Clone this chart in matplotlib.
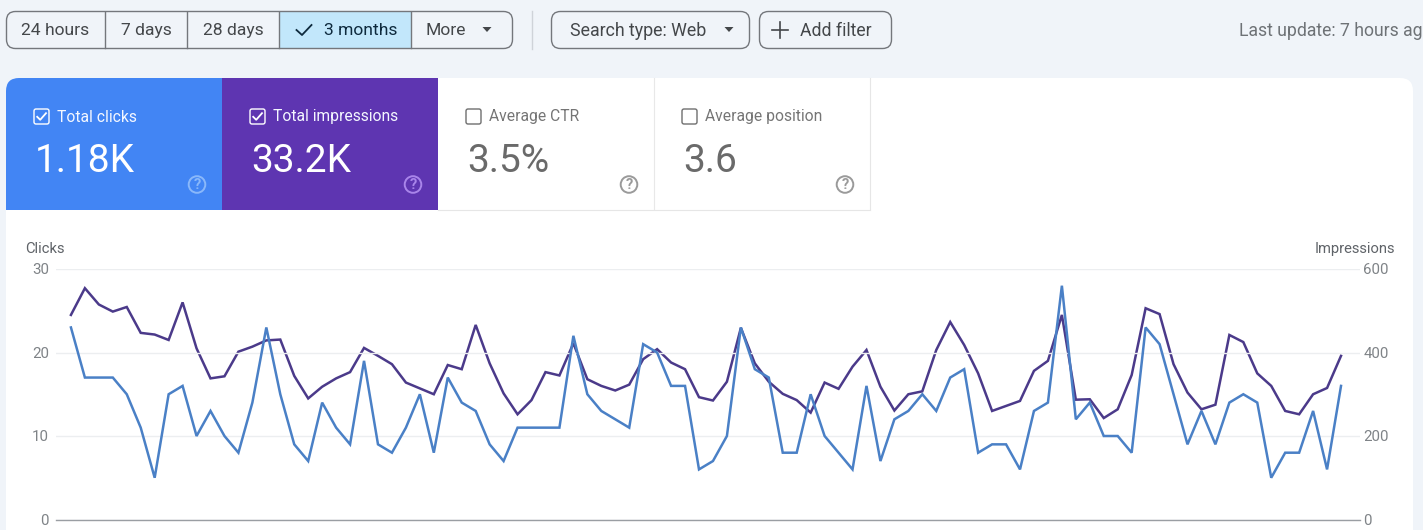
"""Search Console performance panel, redrawn with matplotlib."""

import matplotlib
matplotlib.use("Agg")
import matplotlib.pyplot as plt
import numpy as np
from matplotlib.patches import Circle, FancyBboxPatch, Polygon, Rectangle

W, H = 1423, 530

clicks = [23, 17, 17, 17, 15, 11, 5, 15, 16, 10, 13, 10, 8, 14, 23, 15, 9, 7, 14, 11, 9,
          19, 9, 8, 11, 15, 8, 17, 14, 13, 9, 7, 11, 11, 11, 11, 22, 15, 13, 12, 11, 21, 20,
          16, 16, 6, 7, 10, 23, 18, 17, 8, 8, 15, 10, 8, 6, 16, 7, 12, 13, 15, 13, 17, 18,
          8, 9, 9, 6, 13, 14, 28, 12, 14, 10, 10, 8, 23, 21, 15, 9, 13, 9, 14, 15, 14,
          5, 8, 8, 13, 6, 16]
impressions = [490, 554, 515, 498, 509, 447, 443, 430, 520, 410, 338, 343, 402, 414, 429,
               431, 344, 290, 318, 338, 353, 411, 392, 372, 328, 314, 300, 370, 360, 466,
               374, 302, 252, 286, 353, 345, 422, 336, 320, 309, 323, 384, 408, 376, 360,
               293, 285, 330, 459, 374, 330, 301, 286, 256, 328, 313, 366, 406, 318, 261,
               300, 307, 406, 473, 418, 350, 260, 272, 284, 356, 380, 490, 287, 288, 243,
               264, 346, 506, 492, 372, 304, 264, 275, 442, 425, 350, 320, 260, 252, 300,
               315, 392]
clicks_ticks = [0, 10, 20, 30]
impressions_ticks = [0, 200, 400, 600]

range_labels = ["24 hours", "7 days", "28 days", "3 months", "More"]
tile_names = ["Total clicks", "Total impressions", "Average CTR", "Average position"]
tile_values = ["1.18K", "33.2K", "3.5%", "3.6"]

plt.rcParams["font.family"] = ["Roboto", "DejaVu Sans"]

BG = "#f0f4f9"
BLUE = "#4285f4"
PURPLE = "#5e35b1"
BORDER = "#74777c"
TEXT = "#44474a"

fig = plt.figure(figsize=(W / 100, H / 100), dpi=100, facecolor=BG)

# everything around the chart is placed in pixel coordinates
ui = fig.add_axes([0, 0, 1, 1])
ui.set_xlim(0, W)
ui.set_ylim(H, 0)
ui.axis("off")


def rounded(x0, y0, x1, y1, r, **kw):
    patch = FancyBboxPatch((x0 + r, y0 + r), x1 - x0 - 2 * r, y1 - y0 - 2 * r,
                           boxstyle=f"round,pad={r},rounding_size={r}", **kw)
    ui.add_patch(patch)
    return patch


def arrow(x, y, color=TEXT):
    ui.add_patch(Polygon([(x - 4.5, y - 2), (x + 4.5, y - 2), (x, y + 3)], color=color, lw=0))


def checkbox(x, y, edge, checked):
    rounded(x, y, x + 15, y + 15, 2, fc="none", ec=edge, lw=1.0)
    if checked:
        ui.plot([x + 3.2, x + 6.2, x + 12], [y + 7.8, y + 10.8, y + 4.2], color=edge, lw=1.3)


def help_icon(x, y, color):
    ui.add_patch(Circle((x, y), 8.3, fc="none", ec=color, lw=1.4))
    ui.text(x, y + 0.3, "?", color=color, fontsize=10.5, ha="center", va="center", fontweight="bold")


# date range buttons
rounded(6.5, 11.5, 512.5, 48.5, 9, fc="none", ec=BORDER, lw=1.0, zorder=3)
ui.add_patch(Rectangle((279, 12), 132, 36, fc="#c2e7fb", ec="none"))
for x in (105, 187, 279, 411):
    ui.plot([x, x], [12, 48], color=BORDER, lw=1.0, zorder=3)
for label, x in zip(range_labels, (55.5, 146, 233, 361, 446)):
    color = "#0e2a3d" if label == "3 months" else TEXT
    ui.text(x, 30.5, label, color=color, fontsize=12.6, ha="center", va="center")
ui.plot([296.5, 302, 311.5], [30, 35, 25], color="#0e2a3d", lw=1.3)
arrow(487, 29)

ui.plot([532, 532], [11, 49], color="#cfd3d9", lw=1.0)

# filter buttons
rounded(551.5, 11.5, 749.5, 48.5, 9, fc="none", ec=BORDER, lw=1.0)
ui.text(570, 30.5, "Search type: Web", color=TEXT, fontsize=12.8, ha="left", va="center")
arrow(729, 29)
rounded(759.5, 11.5, 891.5, 48.5, 9, fc="none", ec=BORDER, lw=1.0)
ui.plot([772, 788], [30, 30], color=TEXT, lw=1.2)
ui.plot([780, 780], [22, 38], color=TEXT, lw=1.2)
ui.text(800, 30.5, "Add filter", color=TEXT, fontsize=12.7, ha="left", va="center")
ui.text(1239, 30.5, "Last update: 7 hours ago", color="#6e7276", fontsize=12.7, ha="left", va="center")

# white card
rounded(6, 78, 1413, 600, 13, fc="white", ec="none")

# metric tiles
clip = Rectangle((6, 78), 216, 132, transform=ui.transData)
blue_tile = rounded(6, 78, 260, 250, 13, fc=BLUE, ec="none")
blue_tile.set_clip_path(clip)
ui.add_patch(Rectangle((222, 78), 216, 132, fc=PURPLE, ec="none"))
ui.plot([438, 870], [209.5, 209.5], color="#e6e6e6", lw=0.8)
ui.plot([654, 654], [78, 209], color="#e8e8e8", lw=0.8)
ui.plot([870, 870], [78, 209], color="#e6e6e6", lw=0.8)

tile_x = [34, 250, 466, 682]
icon_colors = ["#8ab8fa", "#a985ea", "#9a9a9a", "#9a9a9a"]
for i, (name, value) in enumerate(zip(tile_names, tile_values)):
    x = tile_x[i]
    active = i < 2
    checkbox(x, 109, "white" if active else "#6f6f6f", active)
    ui.text(x + 23, 117, name, color="#f4f7ff" if active else "#757575",
            fontsize=11.25, ha="left", va="center")
    ui.text(x + 1, 161.5, value, color="white" if active else "#6a6a6a",
            fontsize=28, ha="left", va="center")
    help_icon(x + 163, 184.5, icon_colors[i])

# chart
ax = fig.add_axes([56 / W, 1 - 519.5 / H, 1304 / W, 250.5 / H])
ax.patch.set_alpha(0)
ax2 = ax.twinx()

days = np.arange(len(clicks))
ax2.plot(days, impressions, color="#4b3a8a", lw=1.8, solid_joinstyle="miter")
ax.plot(days, clicks, color="#4a80c6", lw=1.8, solid_joinstyle="miter", zorder=5)
ax.set_zorder(ax2.get_zorder() + 1)

ax.set_xlim(-1.07, 92.36)
ax.set_ylim(0, 30)
ax2.set_ylim(0, 600)
ax.set_yticks(clicks_ticks)
ax2.set_yticks(impressions_ticks)
ax.set_xticks([])
ax.grid(axis="y", color="#eceef0", lw=1.0, zorder=0)
ax.tick_params(axis="y", length=0, pad=5, labelsize=10.8, labelcolor="#7f8387")
ax2.tick_params(axis="y", length=0, pad=2.5, labelsize=10.8, labelcolor="#7f8387")
for a in (ax, ax2):
    for side in ("top", "left", "right"):
        a.spines[side].set_visible(False)
    for tick_label in a.get_yticklabels():
        tick_label.set_va("center_baseline")
ax2.spines["bottom"].set_visible(False)
ax.spines["bottom"].set_color("#9a9ea3")
ax.spines["bottom"].set_linewidth(1.0)

ui.text(25, 249, "Clicks", color="#5f6368", fontsize=10.6, ha="left", va="center")
ui.text(1395, 249, "Impressions", color="#5f6368", fontsize=10.6, ha="right", va="center")

fig.savefig("out.png", dpi=100, facecolor=BG)
